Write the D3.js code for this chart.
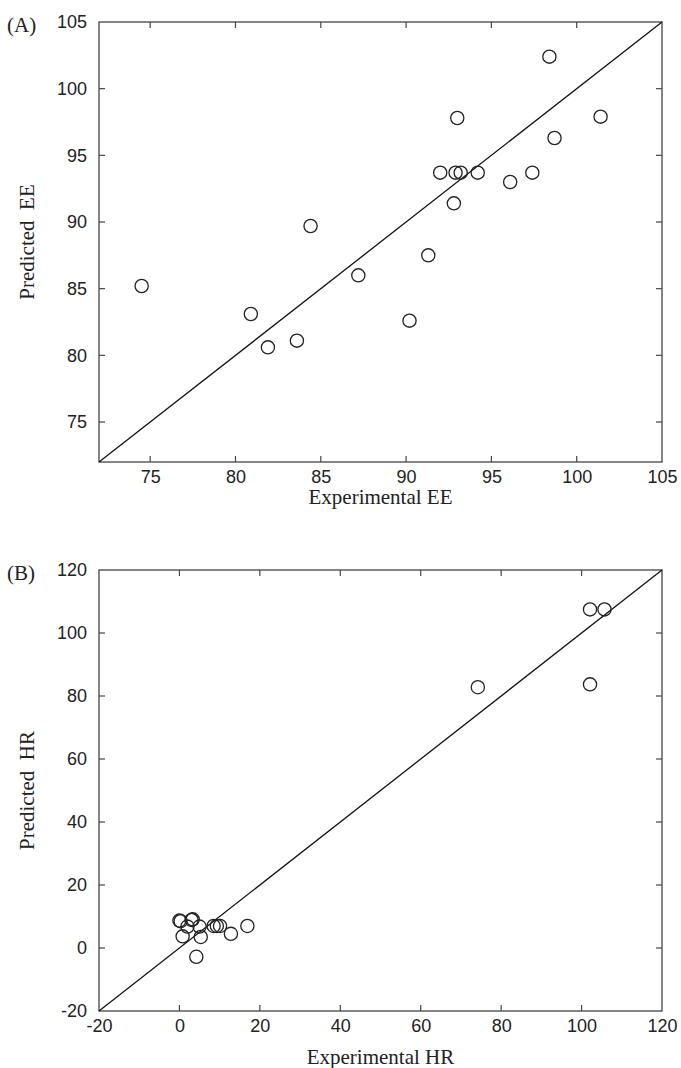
<!DOCTYPE html>
<html>
<head>
<meta charset="utf-8">
<script src="https://cdn.jsdelivr.net/npm/d3@7"></script>
<style>
  body { margin: 0; background: #fff; }
  svg { display: block; }
  .tick text { font-family: "Liberation Sans", Arial, sans-serif; font-size: 18px; fill: #222; }
  .title { font-family: "Liberation Serif", "Times New Roman", serif; font-size: 21px; fill: #222; white-space: pre; }
</style>
</head>
<body>
<div id="chart"></div>
<script>
// Panel A: encapsulation efficiency
const eeExperimental = [74.5, 80.9, 81.9, 83.6, 84.4, 87.2, 90.2, 91.3, 92.0, 92.8, 93.0, 92.9, 93.2, 94.2, 96.1, 97.4, 98.4, 98.7, 101.4];
const eePredicted    = [85.2, 83.1, 80.6, 81.1, 89.7, 86.0, 82.6, 87.5, 93.7, 91.4, 97.8, 93.7, 93.7, 93.7, 93.0, 93.7, 102.4, 96.3, 97.9];
const eeTicks = [75, 80, 85, 90, 95, 100, 105];

// Panel B: HR
const hrExperimental = [0.0, 0.3, 3.3, 3.0, 2.0, 5.0, 0.8, 5.3, 4.2, 8.5, 9.3, 10.1, 12.8, 16.9, 74.2, 102.1, 105.7, 102.1];
const hrPredicted    = [8.7, 8.5, 9.1, 8.9, 6.8, 6.8, 3.7, 3.5, -2.8, 7.0, 7.0, 7.0, 4.5, 7.0, 82.8, 107.5, 107.5, 83.7];
const hrTicks = [-20, 0, 20, 40, 60, 80, 100, 120];

const W = 681, H = 1068;
const svg = d3.select("#chart").append("svg").attr("width", W).attr("height", H);

function panel(opts) {
  const { xs, ys, domain, ticks, top, bottom, left, right, tag, xTitle, yTitle, titleGap } = opts;
  const x = d3.scaleLinear().domain(domain).range([left, right]);
  const y = d3.scaleLinear().domain(domain).range([bottom, top]);
  const inner = ticks.filter(t => t > domain[0] && t < domain[1]);
  const fmt = d => String(d); // plain hyphen for negatives
  const g = svg.append("g");

  const bx = g.append("g").attr("transform", `translate(0,${bottom})`)
    .call(d3.axisBottom(x).tickValues(ticks).tickFormat(fmt).tickSizeInner(0).tickSizeOuter(0).tickPadding(8));
  const lx = g.append("g").attr("transform", `translate(${left},0)`)
    .call(d3.axisLeft(y).tickValues(ticks).tickFormat(fmt).tickSizeInner(0).tickSizeOuter(0).tickPadding(12));
  [bx, lx].forEach(a => a.select(".domain").remove());

  // inward ticks on all four sides
  const tk = g.append("g").attr("stroke", "#444").attr("stroke-width", 1.2);
  inner.forEach(t => {
    tk.append("line").attr("x1", x(t)).attr("x2", x(t)).attr("y1", bottom).attr("y2", bottom - 6);
    tk.append("line").attr("x1", x(t)).attr("x2", x(t)).attr("y1", top).attr("y2", top + 6);
    tk.append("line").attr("y1", y(t)).attr("y2", y(t)).attr("x1", left).attr("x2", left + 6);
    tk.append("line").attr("y1", y(t)).attr("y2", y(t)).attr("x1", right).attr("x2", right - 6);
  });

  g.append("rect")
    .attr("x", left).attr("y", top)
    .attr("width", right - left).attr("height", bottom - top)
    .attr("fill", "none").attr("stroke", "#444").attr("stroke-width", 1.3);

  // 1:1 line
  g.append("line")
    .attr("x1", x(domain[0])).attr("y1", y(domain[0]))
    .attr("x2", x(domain[1])).attr("y2", y(domain[1]))
    .attr("stroke", "#111").attr("stroke-width", 1.3);

  g.append("g").selectAll("circle")
    .data(xs.map((v, i) => [v, ys[i]]))
    .join("circle")
    .attr("cx", d => x(d[0])).attr("cy", d => y(d[1]))
    .attr("r", 6.6)
    .attr("fill", "none").attr("stroke", "#222").attr("stroke-width", 1.3);

  g.append("text").attr("class", "title")
    .attr("x", (left + right) / 2).attr("y", bottom + titleGap)
    .attr("text-anchor", "middle").text(xTitle);
  g.append("text").attr("class", "title")
    .attr("transform", `translate(${left - 65},${(top + bottom) / 2}) rotate(-90)`)
    .attr("text-anchor", "middle").text(yTitle);
  g.append("text").attr("class", "title")
    .attr("x", 7).attr("y", top + 10).text(tag);
}

panel({
  xs: eeExperimental, ys: eePredicted, domain: [72, 105], ticks: eeTicks,
  top: 22, bottom: 462, left: 99, right: 662, titleGap: 42,
  tag: "(A)", xTitle: "Experimental EE", yTitle: "Predicted  EE"
});

panel({
  xs: hrExperimental, ys: hrPredicted, domain: [-20, 120], ticks: hrTicks,
  top: 570, bottom: 1011, left: 99, right: 662, titleGap: 53,
  tag: "(B)", xTitle: "Experimental HR", yTitle: "Predicted  HR"
});
</script>
</body>
</html>
